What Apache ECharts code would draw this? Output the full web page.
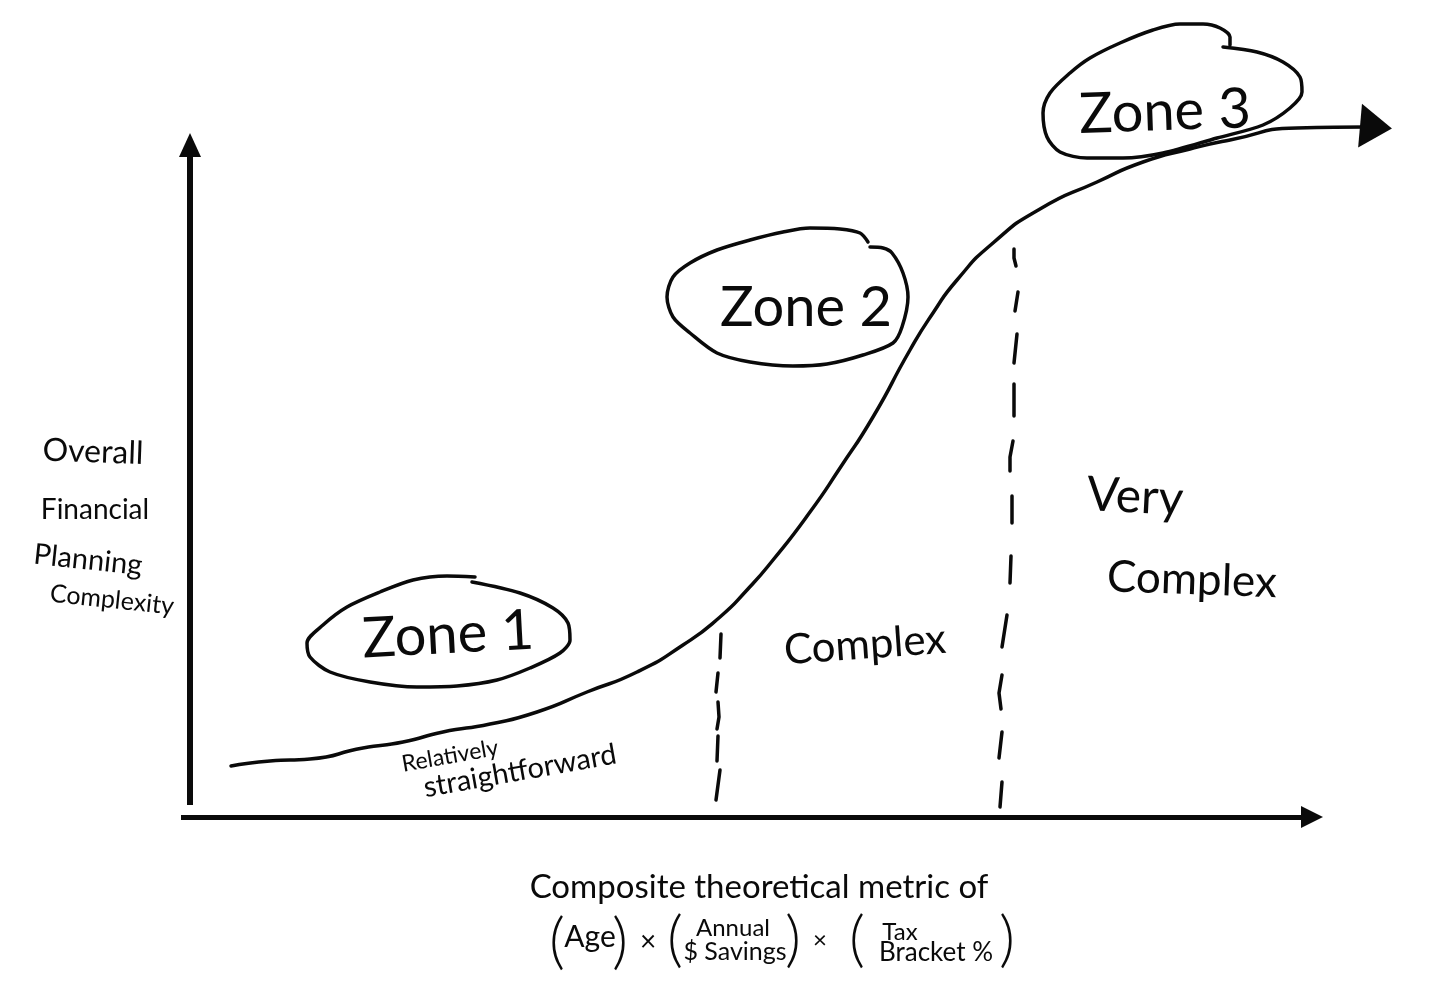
<!DOCTYPE html>
<html><head><meta charset="utf-8">
<style>html,body{margin:0;padding:0;background:#fff}#c{width:1455px;height:1000px}</style>
<script src="https://cdn.jsdelivr.net/npm/echarts@6/dist/echarts.min.js"></script>
</head><body><div id="c"></div>
<script>
// All points are [horizontal metric, complexity], in the units of the axes.
const GAP = ['-','-'];
const growthCurve = [[231,51],[270,56],[310,58],[363,69],[403,75],[443,85],[490,93],[537,105],[587,125],[637,145],[683,172],[720,200],[747,227],[773,257],[810,305],[840,349],[873,400],[910,467],[933,504],[957,537],[993,574],[1040,608],[1097,635],[1143,655],[1190,668],[1230,677],[1297,689],[1365,690]];
const zone1Outline = [[475,240],[447,241],[413,237],[380,225],[347,210],[323,192],[307,174],[310,160],[330,145],[370,135],[417,130],[457,131],[497,137],[530,149],[560,164],[570,177],[568,194],[553,209],[520,224],[472,235]];
const zone2Outline = [[868,575],[860,584],[840,588],[810,589],[783,585],[750,577],[717,567],[690,554],[673,540],[667,520],[673,500],[690,484],[717,464],[750,455],[793,451],[827,453],[863,462],[893,474],[902,490],[908,520],[903,544],[892,564],[883,569],[870,570]];
const zone3Outline = [[1230,772],[1230,780],[1220,789],[1203,793],[1180,793],[1153,787],[1120,774],[1090,759],[1070,744],[1050,724],[1043,704],[1047,680],[1060,665],[1087,659],[1123,659],[1163,664],[1217,679],[1263,692],[1290,709],[1302,725],[1300,740],[1283,755],[1257,765],[1223,770]];
const boundaryOne = [[721,183],[720,159],GAP,[718,144],[716,125],GAP,[718,115],[719,100],[717,88],GAP,[718,81],[717,56],GAP,[720,47],[716,17]];
const boundaryTwo = [[1014,568],[1014,559],[1016,551],GAP,[1018,525],[1015,506],GAP,[1017,483],[1014,454],GAP,[1014,433],[1014,401],GAP,[1013,376],[1010,360],[1010,346],GAP,[1012,321],[1012,294],GAP,[1011,261],[1010,234],GAP,[1007,202],[1002,170],GAP,[1002,142],[999,124],[1001,108],GAP,[1002,85],[999,59],GAP,[1002,35],[1000,10]];
const arrowTip = [[1376,690]];

const zoneNames = ['Zone 1','Zone 2','Zone 3'];
const zoneAnchors = [[448,182,3],[806,509,0],[1165,705,2]];
const regionNames = ['Relatively','straightforward','Complex','Very','Complex'];
const regionAnchors = [[450,61,10,23],[520,46,10,29],[865,172,4,42],[1135,320,-3,48],[1192,237,-2,44]];
const yTitleLines = ['Overall','Financial','Planning','Complexity'];
const yTitleAnchors = [[93,365,-2,32],[95,307,0,28],[88,257,-6,29],[112,217,-6,25]];
const xTitleLine = ['Composite theoretical metric of'];
const xTitleAnchors = [[759,-70,0]];
const xFormulaParts = ['(','Age',')','×','(','Annual','$ Savings',')','×','(','Tax','Bracket %',')'];
const xFormulaAnchors = [[557,-125,62],[590,-120,30],[620,-125,62],[648,-125,28],[675,-123,62],[733,-111,24],[735,-135,25],[793,-123,62],[820,-123,24],[857,-123,62],[900,-115,24],[936,-136,26],[1007,-123,62]];

const INK = '#0a0a0a';
const FONT = 'Lato';
function stroke(name, data, width, smooth) {
  return {name, type:'line', data, xAxisIndex:0, yAxisIndex:0, showSymbol:false, symbol:'none',
    smooth, connectNulls:false, clip:false, silent:true, animation:false,
    lineStyle:{color:INK, width, cap:'round', join:'round'}, z:3};
}
function labels(name, texts, anchors, fixedSize, rotIdx, sizeIdx) {
  return {name, type:'scatter', xAxisIndex:0, yAxisIndex:0, symbolSize:0, clip:false, silent:true, animation:false, z:4,
    itemStyle:{opacity:1},
    data: texts.map((t,i)=>{
      const a = anchors[i];
      return {value:[a[0],a[1]], label:{show:true, position:'inside', formatter:t, color:INK, fontFamily:FONT, opacity:1,
        fontSize: sizeIdx!=null ? a[sizeIdx] : fixedSize,
        fontWeight: t === '(' || t === ')' ? 300 : 400,
        rotate: rotIdx!=null ? a[rotIdx] : 0, align:'center', verticalAlign:'middle'}};
    })};
}
const chart = echarts.init(document.getElementById('c'), null, {renderer:'canvas'});
chart.setOption({
  animation:false, backgroundColor:'#fff',
  grid:[
    {left:0, right:0, top:0, bottom:0},
    {left:181, right:143, top:145, bottom:183},
    {left:190, right:143, top:145, bottom:195}
  ],
  xAxis:[
    {gridIndex:0, type:'value', show:false, min:0, max:1455},
    {gridIndex:1, type:'value', min:181, max:1312, axisTick:{show:false}, axisLabel:{show:false}, splitLine:{show:false},
     axisLine:{show:true, onZero:false, lineStyle:{color:INK,width:5,cap:'butt'}, symbol:['none','triangle'], symbolSize:[22,22]}},
    {gridIndex:2, type:'value', show:false, min:190, max:1312}
  ],
  yAxis:[
    {gridIndex:0, type:'value', show:false, min:-183, max:817},
    {gridIndex:1, type:'value', show:false, min:0, max:672},
    {gridIndex:2, type:'value', min:12, max:672, axisTick:{show:false}, axisLabel:{show:false}, splitLine:{show:false},
     axisLine:{show:true, onZero:false, lineStyle:{color:INK,width:6,cap:'butt'}, symbol:['none','triangle'], symbolSize:[22,24]}}
  ],
  series:[
    stroke('Planning complexity', growthCurve, 3.5, 0.6),
    stroke('Zone 1 outline', zone1Outline, 3.5, 0.3),
    stroke('Zone 2 outline', zone2Outline, 3.5, 0.3),
    stroke('Zone 3 outline', zone3Outline, 3.5, 0.3),
    stroke('Boundary 1', boundaryOne, 3.5, false),
    stroke('Boundary 2', boundaryTwo, 3.5, false),
    {name:'Arrow head', type:'scatter', data:arrowTip, symbol:'triangle', symbolSize:[44,32], symbolRotate:-95, clip:false,
     itemStyle:{color:INK, opacity:1}, silent:true, animation:false, z:5},
    labels('Zones', zoneNames, zoneAnchors, 56, 2),
    labels('Regions', regionNames, regionAnchors, null, 2, 3),
    labels('Y title', yTitleLines, yTitleAnchors, null, 2, 3),
    labels('X title', xTitleLine, xTitleAnchors, 33, 2),
    labels('X formula', xFormulaParts, xFormulaAnchors, null, null, 2)
  ]
});
</script></body></html>
